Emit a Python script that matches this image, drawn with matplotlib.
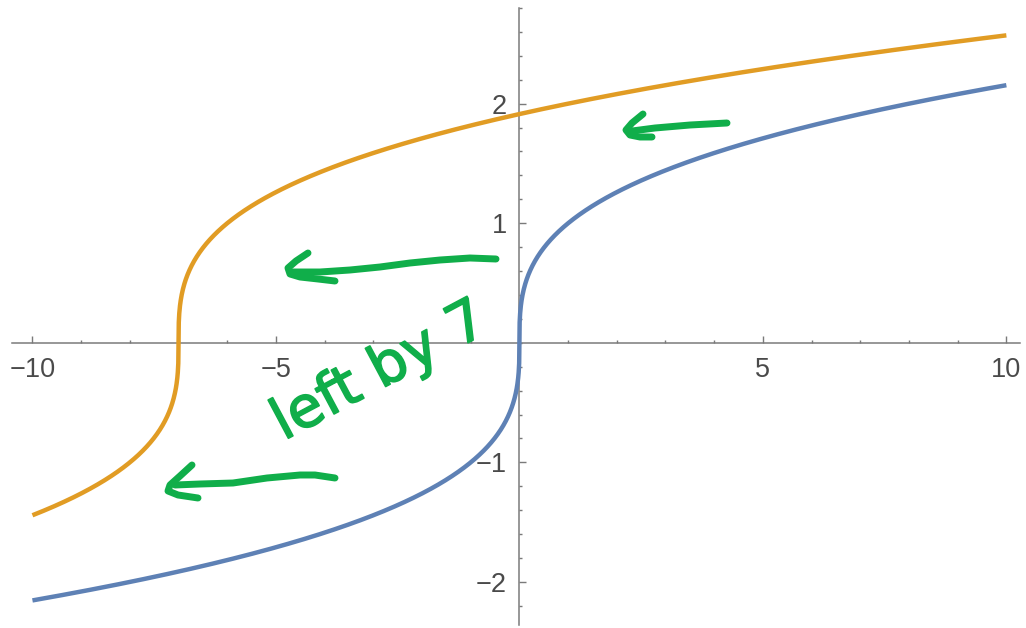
import numpy as np
import matplotlib
matplotlib.use("Agg")
import matplotlib.pyplot as plt
import matplotlib.patheffects as pe
from matplotlib.ticker import MultipleLocator, FixedLocator
from matplotlib.transforms import Affine2D

# plot range and the horizontal shift of the second curve
x_min, x_max = -10, 10
shift = 7
x_ticks = [-10, -5, 5, 10]
y_ticks = [-2, -1, 1, 2]

# hand-drawn arrows, in pixel coordinates (origin top-left)
arrow_strokes = [
    [(727, 123), (690, 125), (655, 128), (632, 131)],
    [(643, 114), (632, 123), (626, 130), (630, 135), (640, 137), (652, 137)],
    [(496, 259), (470, 258), (440, 260), (410, 263), (380, 267), (350, 270), (320, 272), (292, 272)],
    [(308, 253), (296, 261), (288, 268), (290, 274), (300, 277), (318, 279), (335, 281)],
    [(335, 478), (315, 475), (300, 475), (267, 478), (233, 483), (200, 484), (175, 485)],
    [(192, 465), (180, 476), (170, 485), (168, 491), (178, 495), (198, 498)],
]

W, H = 1026, 628
BLUE = "#5e81b5"
ORANGE = "#e19c24"
GREEN = "#10ae4a"
AXIS = "#7a7a7a"
LABEL = "#4a4a4a"

fig = plt.figure(figsize=(W / 100, H / 100), dpi=100)
ax = fig.add_axes([12 / W, 1 - 625 / H, (1020 - 12) / W, (625 - 8) / H])
ax.set_xlim(-10.42, 10.28)
ax.set_ylim(-2.36, 2.80)

x = np.linspace(x_min, x_max, 4001)
ax.plot(x, np.cbrt(x), color=BLUE, lw=3.2, solid_capstyle="butt", zorder=3)
ax.plot(x, np.cbrt(x + shift), color=ORANGE, lw=3.2, solid_capstyle="butt", zorder=3)

# axes through the origin
for side in ("top", "right"):
    ax.spines[side].set_visible(False)
for side in ("left", "bottom"):
    ax.spines[side].set_position("zero")
    ax.spines[side].set_color(AXIS)
    ax.spines[side].set_linewidth(1.1)

ax.xaxis.set_major_locator(FixedLocator(x_ticks))
ax.xaxis.set_minor_locator(MultipleLocator(1))
ax.yaxis.set_major_locator(FixedLocator(y_ticks))
ax.yaxis.set_minor_locator(MultipleLocator(0.2))
ax.tick_params(which="both", direction="in", color=AXIS, width=1.0,
               labelcolor=LABEL, labelsize=19.5)
ax.tick_params(which="major", length=5)
ax.tick_params(which="minor", length=2.5)
ax.tick_params(axis="x", which="major", pad=10)
ax.tick_params(axis="y", which="major", pad=9)
for lab in ax.get_xticklabels() + ax.get_yticklabels():
    lab.set_fontfamily("Liberation Sans")

# handwriting layer
px = Affine2D().scale(1 / W, -1 / H).translate(0, 1) + fig.transFigure
for stroke in arrow_strokes:
    sx, sy = zip(*stroke)
    fig.add_artist(plt.Line2D(sx, sy, transform=px, color=GREEN, lw=5,
                              solid_capstyle="round", solid_joinstyle="round", zorder=5))

fig.text(380 / W, 1 - 372 / H, "left by 7", transform=fig.transFigure,
         color=GREEN, fontsize=41, rotation=28, ha="center", va="center",
         fontfamily="DejaVu Sans", rotation_mode="anchor", zorder=5,
         path_effects=[pe.withStroke(linewidth=1.2, foreground=GREEN)])

fig.savefig("out.png", dpi=100)
